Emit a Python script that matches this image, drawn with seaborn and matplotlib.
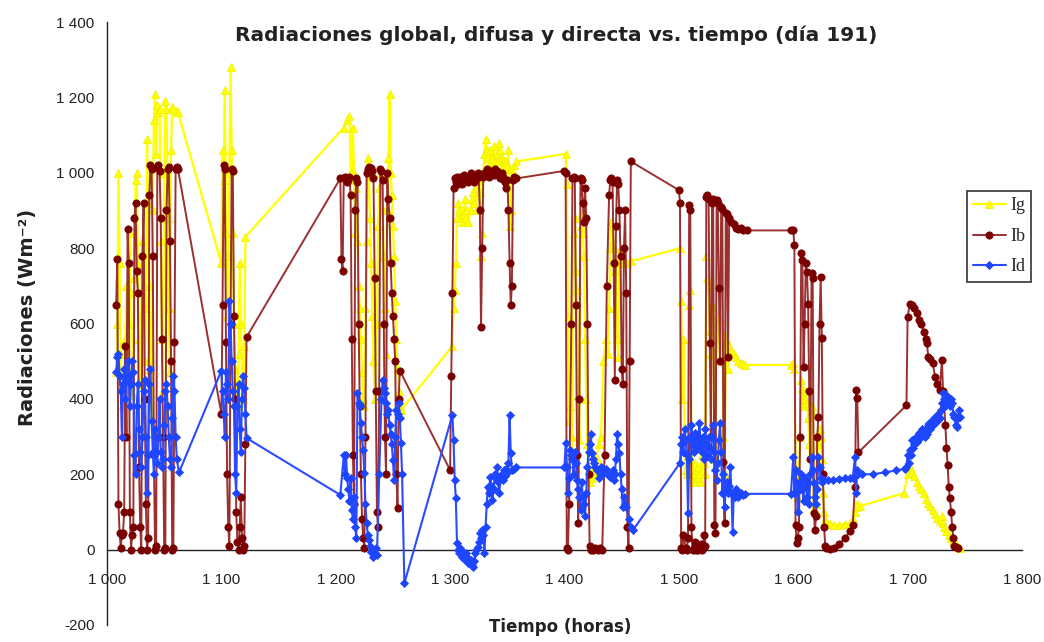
import matplotlib
matplotlib.use("Agg")
import matplotlib.pyplot as plt
from matplotlib.ticker import FuncFormatter
import pandas as pd
import seaborn as sns

# ---------------- data: time (h) and irradiance (W m-2) ----------------
t_ig = [1008, 1009, 1010, 1011, 1012, 1013, 1014, 1016, 1017, 1018, 1019, 1020, 1021, 1022, 1023, 1024, 1025, 1026, 1027, 1028,
        1029, 1030, 1031, 1032, 1033, 1034, 1035, 1036, 1037, 1038, 1039, 1040, 1041, 1042, 1043, 1044, 1045, 1046, 1047, 1048,
        1049, 1050, 1051, 1052, 1053, 1054, 1055, 1056, 1057, 1058, 1060, 1062,
        1100, 1101, 1102, 1103, 1104, 1105, 1106, 1107, 1108, 1109, 1110, 1111, 1112, 1113, 1114, 1115, 1116, 1117, 1118, 1119,
        1120, 1121,
        1207, 1210, 1212, 1213, 1214, 1215, 1216, 1217, 1218, 1219, 1220, 1221, 1222, 1223, 1224, 1225, 1226, 1227, 1228, 1229,
        1230, 1231, 1232, 1233, 1234, 1236, 1237, 1238, 1240, 1241, 1242, 1243, 1244, 1245, 1246, 1247, 1248, 1249, 1250, 1251,
        1252, 1253, 1254, 1255, 1256, 1257,
        1302, 1303, 1304, 1305, 1306, 1307, 1308, 1309, 1310, 1311, 1312, 1313, 1314, 1315, 1316, 1318, 1319, 1320, 1321, 1322,
        1323, 1324, 1325, 1326, 1327, 1328, 1329, 1330, 1331, 1332, 1333, 1334, 1335, 1336, 1337, 1338, 1339, 1340, 1341, 1342,
        1343, 1344, 1345, 1346, 1347, 1348, 1349, 1350, 1351, 1352, 1353, 1354, 1356, 1358,
        1401, 1402, 1403, 1404, 1405, 1406, 1407, 1408, 1409, 1410, 1411, 1412, 1413, 1414, 1415, 1416, 1417, 1418, 1419, 1420,
        1421, 1422, 1423, 1424, 1425, 1427, 1428, 1430, 1432, 1434, 1436, 1438, 1439, 1440, 1441, 1442, 1443, 1444, 1445, 1446,
        1447, 1448, 1449, 1450, 1452, 1455, 1458,
        1501, 1502, 1503, 1504, 1505, 1506, 1507, 1508, 1509, 1510, 1511, 1512, 1513, 1514, 1515, 1516, 1517, 1518, 1519, 1520,
        1521, 1522, 1523, 1524, 1525, 1526, 1527, 1528, 1529, 1530, 1531, 1532, 1533, 1534, 1535, 1536, 1537, 1538, 1539, 1540,
        1541, 1542, 1543, 1544, 1546, 1548, 1550, 1552, 1554, 1556, 1558,
        1598, 1600, 1601, 1602, 1603, 1604, 1605, 1606, 1607, 1608, 1609, 1610, 1611, 1612, 1613, 1614, 1615, 1616, 1617, 1618,
        1619, 1620, 1621, 1622, 1623, 1624, 1625, 1626, 1627, 1628, 1629, 1632, 1636, 1640, 1645, 1650, 1652, 1654, 1655, 1656,
        1658,
        1697, 1700, 1702, 1704, 1706, 1708, 1710, 1712, 1714, 1716, 1718, 1720, 1722, 1724, 1726, 1728, 1730, 1731, 1732, 1734,
        1736, 1738, 1740, 1742, 1744, 1746]
ig = [470, 600, 1000, 760, 520, 380, 430, 560, 700, 480, 600, 840, 680, 450, 410, 720, 980, 1000, 760, 560,
      440, 620, 820, 700, 500, 640, 1090, 920, 700, 480, 350, 900, 1140, 1210, 1050, 1180, 1160, 1170, 820, 560,
      420, 1000, 1190, 1170, 880, 640, 470, 1060, 1175, 1170, 1165, 1160,
      760, 1060, 980, 1220, 840, 620, 780, 1000, 1280, 1060, 840, 600, 480, 420, 380, 520, 760, 600, 450, 400,
      540, 830,
      1120, 1140, 1150, 1000, 980, 1120, 1000, 840, 960, 820, 700, 640, 560, 470, 400, 380, 640, 820, 1040, 1000,
      880, 760, 620, 500, 400, 600, 860, 960, 1000, 900, 780, 640, 520, 900, 1040, 1210, 1000, 940, 860, 780,
      660, 560, 480, 420, 380, 370,
      540, 640, 690, 760, 880, 920, 900, 880, 870, 900, 890, 930, 880, 900, 870, 900, 930, 950, 920, 960,
      900, 980, 1000, 950, 780, 840, 1000, 1050, 1090, 1060, 1040, 1020, 1060, 1000, 1040, 1070, 1030, 1010, 1050, 1030,
      1080, 1060, 1040, 1020, 1030, 1010, 1030, 1020, 1060, 860, 900, 1010, 1020, 1030,
      1050, 970, 620, 340, 380, 250, 300, 840, 880, 740, 690, 410, 290, 860, 890, 840, 780, 560, 400, 280,
      200, 180, 200, 190, 220, 200, 240, 280, 300, 500, 560, 520, 640, 800, 870, 860, 800, 740, 760, 560,
      510, 780, 800, 760, 770, 760, 765,
      800, 660, 400, 560, 290, 210, 200, 230, 650, 690, 240, 200, 180, 230, 210, 190, 220, 200, 180, 250,
      210, 230, 200, 780, 720, 700, 580, 520, 650, 640, 240, 220, 620, 600, 560, 500, 610, 580, 300, 200,
      560, 550, 480, 540, 530, 520, 510, 500, 495, 492, 490,
      490, 494, 480, 200, 140, 160, 200, 300, 450, 430, 380, 400, 420, 390, 350, 280, 200, 380, 360, 110,
      100, 120, 250, 280, 320, 300, 240, 150, 100, 80, 70, 68, 66, 66, 68, 70, 80, 100, 113, 120,
      115,
      150, 200, 220, 205, 195, 180, 170, 160, 150, 135, 125, 115, 105, 95, 85, 75, 90, 70, 60, 50,
      40, 30, 22, 15, 8, 3]

t_ib = [1008, 1009, 1010, 1011, 1012, 1013, 1014, 1015, 1016, 1017, 1018, 1019, 1020, 1021, 1022, 1023, 1024, 1025, 1026, 1027,
        1028, 1029, 1030, 1031, 1032, 1033, 1034, 1035, 1036, 1037, 1038, 1039, 1040, 1041, 1042, 1043, 1044, 1045, 1046, 1047,
        1048, 1049, 1050, 1051, 1052, 1053, 1054, 1055, 1056, 1057, 1058, 1059, 1060, 1061, 1062,
        1100, 1101, 1102, 1103, 1104, 1105, 1106, 1107, 1108, 1109, 1110, 1111, 1112, 1113, 1114, 1115, 1116, 1117, 1118, 1119,
        1120, 1121, 1122,
        1204, 1205, 1206, 1207, 1208, 1209, 1210, 1211, 1212, 1213, 1214, 1215, 1216, 1217, 1218, 1219, 1220, 1221, 1222, 1223,
        1224, 1225, 1226, 1227, 1228, 1229, 1230, 1231, 1232, 1233, 1234, 1235, 1236, 1237, 1238, 1239, 1240, 1241, 1242, 1243,
        1244, 1245, 1246, 1247, 1248, 1249, 1250, 1251, 1252, 1253, 1254, 1255, 1256,
        1300, 1301, 1302, 1303, 1304, 1305, 1306, 1307, 1308, 1309, 1310, 1311, 1312, 1313, 1314, 1315, 1316, 1317, 1318, 1319,
        1320, 1321, 1322, 1323, 1324, 1325, 1326, 1327, 1328, 1329, 1330, 1331, 1332, 1333, 1334, 1335, 1336, 1337, 1338, 1339,
        1340, 1341, 1342, 1343, 1344, 1345, 1346, 1347, 1348, 1349, 1350, 1351, 1352, 1353, 1354, 1355, 1356, 1358,
        1400, 1401, 1402, 1403, 1404, 1406, 1407, 1408, 1409, 1410, 1411, 1412, 1413, 1414, 1415, 1416, 1417, 1418, 1419, 1420,
        1421, 1422, 1423, 1424, 1425, 1427, 1429, 1431, 1433, 1435, 1437, 1439, 1440, 1441, 1442, 1443, 1444, 1445, 1446, 1447,
        1448, 1449, 1450, 1451, 1452, 1453, 1454, 1455, 1456, 1457, 1458,
        1500, 1501, 1502, 1503, 1504, 1506, 1507, 1508, 1509, 1510, 1511, 1512, 1513, 1514, 1515, 1516, 1517, 1518, 1519, 1520,
        1521, 1522, 1523, 1524, 1525, 1526, 1527, 1528, 1529, 1530, 1531, 1532, 1533, 1534, 1535, 1536, 1537, 1538, 1539, 1540,
        1541, 1542, 1543, 1544, 1546, 1548, 1550, 1552, 1554, 1556, 1560, 1598,
        1600, 1601, 1602, 1603, 1604, 1605, 1606, 1607, 1608, 1609, 1610, 1611, 1612, 1613, 1614, 1615, 1616, 1617, 1618, 1619,
        1620, 1621, 1622, 1623, 1624, 1625, 1626, 1627, 1628, 1629, 1632, 1636, 1640, 1645, 1650, 1652, 1654, 1655, 1656, 1657,
        1699, 1700, 1702, 1704, 1706, 1708, 1710, 1712, 1714, 1716, 1717, 1718, 1720, 1722, 1724, 1726, 1728, 1730, 1731, 1732,
        1733, 1734, 1735, 1736, 1737, 1738, 1739, 1740, 1741, 1742, 1744]
ib = [650, 770, 120, 45, 5, 40, 45, 100, 540, 300, 850, 760, 100, 0, 40, 60, 880, 920, 740, 680,
      220, 60, 0, 780, 920, 400, 120, 0, 30, 940, 1020, 1010, 780, 250, 0, 10, 1015, 1020, 1005, 880,
      560, 300, 0, 5, 900, 1010, 1015, 820, 500, 0, 5, 550, 1010, 1015, 1010,
      360, 650, 1020, 1010, 550, 200, 60, 10, 600, 1010, 1005, 620, 400, 100, 20, 0, 60, 140, 30, 0,
      10, 280, 564,
      985, 770, 740, 985, 990, 985, 975, 980, 990, 940, 560, 250, 120, 900, 985, 975, 600, 380, 200, 80,
      30, 5, 300, 1000, 1010, 1015, 1010, 1012, 1005, 985, 720, 420, 100, 60, 420, 1010, 1005, 980, 600, 300,
      200, 1000, 930, 880, 760, 680, 620, 560, 500, 200, 110, 400, 475,
      211, 460, 680, 960, 985, 975, 990, 970, 985, 990, 970, 985, 995, 980, 990, 985, 975, 990, 1000, 985,
      990, 975, 980, 990, 1000, 990, 900, 590, 800, 990, 1000, 995, 1010, 1005, 990, 1000, 1005, 1000, 995, 1010,
      1000, 1005, 1000, 995, 985, 1000, 990, 980, 975, 960, 980, 900, 760, 650, 700, 980, 990, 985,
      1005, 1000, 5, 0, 120, 600, 985, 990, 985, 650, 250, 70, 400, 985, 980, 920, 870, 960, 880, 600,
      200, 10, 0, 5, 0, 5, 0, 3, 0, 250, 700, 940, 980, 985, 975, 760, 450, 860, 980, 970,
      900, 780, 480, 440, 800, 900, 680, 60, 5, 500, 1030,
      954, 920, 5, 0, 40, 5, 0, 30, 914, 900, 60, 0, 5, 20, 0, 10, 0, 5, 15, 0,
      5, 40, 10, 935, 940, 930, 548, 299, 920, 930, 65, 44, 927, 920, 693, 500, 910, 905, 232, 70,
      892, 890, 511, 880, 870, 865, 853, 850, 853, 848, 847, 847,
      848, 808, 66, 17, 30, 60, 300, 786, 768, 485, 600, 760, 736, 653, 420, 240, 733, 720, 97, 52,
      90, 300, 352, 600, 723, 561, 200, 60, 10, 4, 2, 5, 15, 30, 50, 66, 166, 423, 401, 258,
      383, 617, 653, 650, 640, 627, 608, 600, 578, 560, 547, 511, 505, 494, 459, 440, 423, 503, 420, 380,
      330, 270, 225, 166, 136, 100, 60, 30, 10, 7, 5]

t_id = [1008, 1009, 1010, 1011, 1012, 1013, 1014, 1015, 1016, 1017, 1018, 1019, 1020, 1021, 1022, 1023, 1024, 1025, 1026, 1027,
        1028, 1029, 1030, 1031, 1032, 1033, 1034, 1035, 1036, 1037, 1038, 1039, 1040, 1041, 1042, 1043, 1044, 1045, 1046, 1047,
        1048, 1049, 1050, 1051, 1052, 1053, 1054, 1055, 1056, 1057, 1058, 1059, 1060, 1061, 1063,
        1100, 1101, 1102, 1103, 1104, 1105, 1106, 1107, 1108, 1109, 1110, 1111, 1112, 1113, 1114, 1115, 1116, 1117, 1118, 1119,
        1120, 1121, 1122,
        1204, 1207, 1208, 1209, 1210, 1211, 1212, 1213, 1214, 1215, 1216, 1217, 1218, 1219, 1220, 1221, 1222, 1223, 1224, 1225,
        1226, 1227, 1228, 1229, 1230, 1231, 1232, 1233, 1234, 1235, 1236, 1238, 1240, 1241, 1242, 1243, 1244, 1245, 1246, 1247,
        1248, 1249, 1250, 1251, 1252, 1253, 1254, 1255, 1256, 1257, 1258, 1260,
        1302, 1303, 1304, 1305, 1306, 1307, 1308, 1309, 1310, 1311, 1312, 1313, 1314, 1315, 1316, 1318, 1319, 1320, 1321, 1322,
        1323, 1324, 1325, 1326, 1327, 1328, 1329, 1330, 1331, 1332, 1333, 1334, 1335, 1336, 1337, 1338, 1339, 1340, 1341, 1342,
        1343, 1344, 1345, 1346, 1347, 1348, 1349, 1350, 1351, 1352, 1353, 1354, 1356, 1358,
        1400, 1401, 1402, 1403, 1404, 1405, 1406, 1407, 1408, 1409, 1410, 1411, 1412, 1413, 1414, 1415, 1416, 1417, 1418, 1419,
        1420, 1421, 1422, 1423, 1424, 1425, 1426, 1427, 1428, 1430, 1432, 1434, 1436, 1438, 1440, 1442, 1443, 1444, 1445, 1446,
        1447, 1448, 1449, 1450, 1451, 1452, 1453, 1454, 1456, 1458, 1460,
        1501, 1502, 1503, 1504, 1505, 1506, 1507, 1508, 1509, 1510, 1511, 1512, 1513, 1514, 1515, 1516, 1517, 1518, 1519, 1520,
        1521, 1522, 1523, 1524, 1525, 1526, 1527, 1528, 1529, 1530, 1531, 1532, 1533, 1534, 1535, 1536, 1537, 1538, 1539, 1540,
        1541, 1542, 1543, 1544, 1545, 1546, 1547, 1548, 1549, 1550, 1551, 1552, 1554, 1556, 1558,
        1598, 1600, 1601, 1602, 1603, 1604, 1605, 1606, 1607, 1608, 1609, 1610, 1611, 1612, 1613, 1614, 1615, 1616, 1617, 1618,
        1619, 1620, 1621, 1622, 1623, 1624, 1625, 1627, 1630, 1635, 1640, 1645, 1650, 1652, 1654, 1655, 1656, 1657, 1660, 1670,
        1680, 1690, 1698, 1699, 1700, 1701, 1702, 1703, 1704, 1705, 1706, 1707, 1708, 1709, 1710, 1711, 1712, 1713, 1714, 1715,
        1716, 1717, 1718, 1719, 1720, 1721, 1722, 1723, 1724, 1725, 1726, 1727, 1728, 1729, 1730, 1731, 1732, 1733, 1734, 1735,
        1736, 1737, 1738, 1739, 1740, 1741, 1742, 1743, 1744, 1745, 1746]
id_ = [470, 510, 520, 460, 420, 300, 440, 480, 400, 450, 500, 460, 380, 440, 500, 470, 250, 200, 380, 440,
       320, 260, 220, 300, 420, 450, 300, 150, 250, 440, 480, 340, 260, 200, 320, 260, 230, 300, 400, 260,
       220, 240, 330, 420, 440, 380, 300, 240, 220, 350, 460, 420, 300, 240, 205,
       475, 420, 360, 300, 470, 440, 400, 660, 600, 500, 420, 380, 200, 150, 380, 440, 320, 260, 400, 460,
       430, 360, 296,
       145, 250, 200, 250, 190, 160, 130, 190, 105, 80, 140, 60, 30, 416, 390, 380, 335, 300, 264, 202,
       120, 70, 40, 25, 10, -5, 0, -20, -10, 5, -15, 200, 400, 450, 430, 416, 390, 360, 370, 330,
       308, 280, 237, 185, 300, 370, 360, 388, 350, 282, 200, -89,
       357, 290, 184, 136, 17, 0, -10, 5, -20, -5, -25, -15, -10, -20, -35, -28, -40, -46, -30, -10,
       0, 7, 20, 44, 30, 52, 40, -10, 60, 120, 167, 150, 193, 170, 131, 160, 200, 190, 220, 180,
       150, 190, 200, 184, 210, 195, 215, 202, 230, 357, 256, 211, 215, 218,
       218, 283, 220, 150, 190, 264, 250, 240, 200, 260, 230, 184, 160, 140, 105, 180, 140, 120, 90, 150,
       220, 260, 280, 308, 256, 240, 230, 220, 210, 190, 220, 200, 215, 200, 193, 210, 184, 200, 240, 308,
       280, 256, 200, 160, 113, 140, 120, 113, 80, 60, 52,
       230, 280, 300, 260, 320, 290, 250, 97, 240, 300, 330, 280, 260, 310, 290, 270, 300, 336, 280, 260,
       300, 240, 320, 280, 250, 300, 270, 240, 300, 330, 260, 211, 184, 230, 290, 336, 260, 150, 200, 113,
       160, 180, 150, 170, 220, 150, 47, 150, 140, 160, 150, 140, 150, 145, 148,
       148, 245, 150, 211, 176, 100, 158, 180, 200, 160, 130, 190, 170, 140, 180, 120, 200, 245, 211, 176,
       140, 120, 160, 245, 220, 190, 180, 185, 185, 186, 188, 190, 190, 190, 245, 150, 211, 200, 200, 200,
       205, 210, 215, 220, 250, 230, 264, 250, 290, 270, 280, 300, 285, 300, 310, 295, 305, 320, 310, 300,
       320, 308, 330, 336, 320, 340, 330, 350, 335, 353, 340, 360, 350, 371, 390, 416, 400, 380, 410, 406,
       395, 380, 400, 390, 360, 353, 330, 326, 350, 370, 353]

series_names = ["Ig", "Ib", "Id"]
x_ticks = [1000, 1100, 1200, 1300, 1400, 1500, 1600, 1700, 1800]
y_ticks = [-200, 0, 200, 400, 600, 800, 1000, 1200, 1400]

title = "Radiaciones global, difusa y directa vs. tiempo (día 191)"
x_label = "Tiempo (horas)"
y_label = "Radiaciones (Wm⁻²)"

# ---------------- figure ----------------
sns.set_style("white")
plt.rcParams["font.family"] = ["DejaVu Sans"]

fig = plt.figure(figsize=(10.44, 6.42), dpi=100)
ax = fig.add_axes([0.1025, 0.0265, 0.8764, 0.9392])

styles = [
    dict(t=t_ig, v=ig, color="#FFFF00", mfc="#FFFF00", mec="#F0F000", marker="^", ms=6.0, lw=1.6),
    dict(t=t_ib, v=ib, color="#9A3030", mfc="#7A0000", mec="#7A0000", marker="o", ms=5.2, lw=1.4),
    dict(t=t_id, v=id_, color="#2A4BFF", mfc="#1E46FF", mec="#1E46FF", marker="D", ms=4.2, lw=1.5),
]
for z, (name, st) in enumerate(zip(series_names, styles)):
    df = pd.DataFrame({"t": st["t"], "v": st["v"]})
    sns.lineplot(data=df, x="t", y="v", sort=False, estimator=None, ax=ax,
                 color=st["color"], linewidth=st["lw"], marker=st["marker"],
                 markersize=st["ms"], markerfacecolor=st["mfc"],
                 markeredgecolor=st["mec"], markeredgewidth=0.6,
                 label=name, zorder=3 + z)

ax.set_xlim(1000, 1800)
ax.set_ylim(-200, 1400)
ax.set_xticks(x_ticks)
ax.set_yticks(y_ticks)

thousands = FuncFormatter(lambda v, p: f"{int(v):,}".replace(",", " "))
ax.xaxis.set_major_formatter(thousands)
ax.yaxis.set_major_formatter(thousands)

for side in ["top", "right"]:
    ax.spines[side].set_visible(False)
ax.spines["bottom"].set_position(("data", 0))
for side in ["left", "bottom"]:
    ax.spines[side].set_color("#222222")
    ax.spines[side].set_linewidth(1.0)

ax.tick_params(axis="x", direction="out", length=4, width=1, color="#222222",
               pad=13, labelsize=11, labelcolor="#222222")
ax.tick_params(axis="y", direction="out", length=5, width=1, color="#222222",
               pad=4, labelsize=11, labelcolor="#222222")
for lab in ax.get_xticklabels() + ax.get_yticklabels():
    lab.set_fontfamily("Liberation Sans")

ax.set_xlabel(x_label, fontsize=12, fontweight="bold", color="#222222")
ax.xaxis.set_label_coords(0.495, 0.012)
ax.set_ylabel(y_label, fontsize=14, fontweight="bold", color="#222222")
ax.yaxis.set_label_coords(-0.076, 0.51)

ax.text(0.4907, 0.978, title, transform=ax.transAxes, ha="center", va="center",
        fontsize=14.5, fontweight="bold", color="#222222")

handles, labels = ax.get_legend_handles_labels()
leg = ax.legend(handles, labels, loc="upper left", bbox_to_anchor=(0.926, 0.7025),
                bbox_transform=fig.transFigure, borderaxespad=0.0,
                frameon=True, fancybox=False,
                edgecolor="#333333", framealpha=1, borderpad=0.35,
                handlelength=1.8, handletextpad=0.25, labelspacing=0.75,
                prop={"family": "Liberation Serif", "size": 13})
leg.get_frame().set_linewidth(1.2)

fig.savefig("out.png", dpi=100, facecolor="white")
